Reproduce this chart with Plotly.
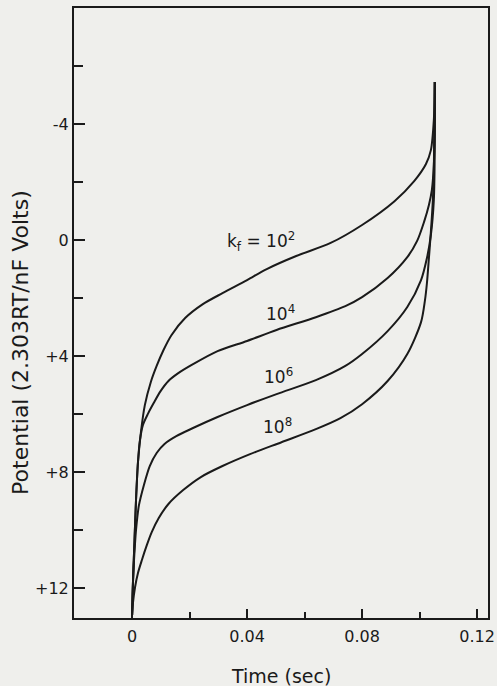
import plotly.graph_objects as go

# ---- data (time in sec, potential in 2.303RT/nF volts) ----
t_k2 = [0.0, 0.00034, 0.00085, 0.00137, 0.00205, 0.00308, 0.00444, 0.0065, 0.00855, 0.01094,
        0.01368, 0.01846, 0.02462, 0.03145, 0.04, 0.04684, 0.05709, 0.06906, 0.08, 0.09128,
        0.09812, 0.10222, 0.10393, 0.10496, 0.1053]
V_k2 = [12.93, 11.72, 10.34, 8.97, 7.66, 6.62, 5.69, 4.90, 4.34, 3.79,
        3.28, 2.69, 2.21, 1.83, 1.38, 1.00, 0.55, 0.10, -0.52, -1.34,
        -2.03, -2.62, -3.10, -4.14, -5.45]

t_k4 = [0.0, 0.00034, 0.00085, 0.00137, 0.00205, 0.00274, 0.00376, 0.00547, 0.00752, 0.00991,
        0.01265, 0.01607, 0.0212, 0.02974, 0.04, 0.05026, 0.06393, 0.07419, 0.08, 0.08889,
        0.09573, 0.09915, 0.10154, 0.10325, 0.10427, 0.10496, 0.1053, 0.1053]
V_k4 = [12.93, 11.72, 10.34, 8.97, 7.66, 6.90, 6.38, 6.00, 5.62, 5.21,
        4.86, 4.59, 4.28, 3.83, 3.48, 3.10, 2.66, 2.28, 1.97, 1.31,
        0.59, 0.03, -0.62, -1.21, -1.72, -2.59, -4.14, -5.45]

t_k6 = [0.0, 0.00034, 0.00068, 0.00137, 0.00239, 0.0041, 0.00615, 0.00855, 0.01128, 0.01538,
        0.0212, 0.02974, 0.04, 0.05026, 0.06393, 0.07419, 0.08, 0.08889, 0.09573, 0.10051,
        0.10256, 0.10393, 0.10496, 0.1053, 0.1053]
V_k6 = [12.93, 11.72, 11.03, 10.00, 9.14, 8.45, 7.79, 7.34, 7.03, 6.76,
        6.48, 6.10, 5.69, 5.31, 4.83, 4.34, 3.93, 3.14, 2.31, 1.38,
        0.62, -0.17, -1.38, -3.45, -5.45]

t_k8 = [0.0, 0.00034, 0.00103, 0.00205, 0.00342, 0.00513, 0.00684, 0.00923, 0.01265, 0.01778,
        0.02393, 0.03145, 0.04103, 0.05197, 0.06393, 0.07248, 0.08, 0.08889, 0.09573, 0.10051,
        0.10188, 0.10256, 0.10325, 0.10393, 0.10462, 0.10496, 0.1053]
V_k8 = [12.93, 12.48, 11.97, 11.48, 11.03, 10.52, 10.07, 9.59, 9.10, 8.62,
        8.17, 7.79, 7.38, 6.97, 6.52, 6.14, 5.66, 4.86, 3.93, 2.83,
        2.07, 1.48, 0.62, -0.28, -1.38, -2.41, -5.45]

series = [("k2", t_k2, V_k2), ("k4", t_k4, V_k4), ("k6", t_k6, V_k6), ("k8", t_k8, V_k8)]

curve_labels = ["k<sub>f</sub> = 10<sup>2</sup>", "10<sup>4</sup>", "10<sup>6</sup>", "10<sup>8</sup>"]
label_t = [0.0450, 0.0515, 0.0510, 0.0505]
label_V = [0.05, 2.50, 4.70, 6.40]

x_tickvals = [0, 0.04, 0.08, 0.12]
x_ticktext = ["0", "0.04", "0.08", "0.12"]
y_tickvals = [-4, 0, 4, 8, 12]
y_ticktext = ["-4", "0", "+4", "+8", "+12"]

ink = "#1a1a1a"
paper = "#efefec"
font = "DejaVu Sans"

fig = go.Figure()
for name, t, v in series:
    fig.add_trace(go.Scatter(x=t, y=v, mode="lines", name=name,
                             line=dict(color=ink, width=2, shape="spline", smoothing=0.8),
                             showlegend=False, hoverinfo="skip"))

for txt, tx, vy in zip(curve_labels, label_t, label_V):
    fig.add_annotation(x=tx, y=vy, xref="x", yref="y", text=txt, showarrow=False,
                       font=dict(family=font, size=17, color=ink))

fig.add_annotation(x=0.501, y=-0.095, xref="paper", yref="paper", text="Time (sec)",
                   showarrow=False, font=dict(family=font, size=19, color=ink),
                   xanchor="center", yanchor="middle")
fig.add_annotation(x=-0.128, y=0.451, xref="paper", yref="paper",
                   text="Potential (2.303RT/nF Volts)", textangle=-90,
                   showarrow=False, font=dict(family=font, size=22, color=ink),
                   xanchor="center", yanchor="middle")

fig.update_xaxes(range=[-0.0202, 0.1238], tickvals=x_tickvals, ticktext=x_ticktext,
                 ticks="inside", ticklen=9, tickwidth=1.5, tickcolor=ink,
                 minor=dict(dtick=0.02, tick0=0, ticks="inside", ticklen=6, tickwidth=1.5, tickcolor=ink),
                 showline=True, linecolor=ink, linewidth=2, mirror=True,
                 showgrid=False, zeroline=False, ticklabeloverflow="allow",
                 ticklabelstandoff=3,
                 tickfont=dict(family=font, size=16, color=ink))
fig.update_yaxes(range=[13.03, -8.0], tickvals=y_tickvals, ticktext=y_ticktext,
                 ticks="inside", ticklen=11, tickwidth=1.5, tickcolor=ink,
                 minor=dict(dtick=2, tick0=0, ticks="inside", ticklen=9, tickwidth=1.5, tickcolor=ink),
                 showline=True, linecolor=ink, linewidth=2, mirror=True,
                 showgrid=False, zeroline=False,
                 tickfont=dict(family=font, size=16, color=ink))

fig.update_layout(width=497, height=686, margin=dict(l=74, r=2, t=8, b=68),
                  paper_bgcolor=paper, plot_bgcolor=paper)

fig.write_html("out.html", config={"displayModeBar": False},
               post_script="document.body.style.margin='0';document.body.style.overflow='hidden';"
                           "document.documentElement.style.background='" + paper + "';")
